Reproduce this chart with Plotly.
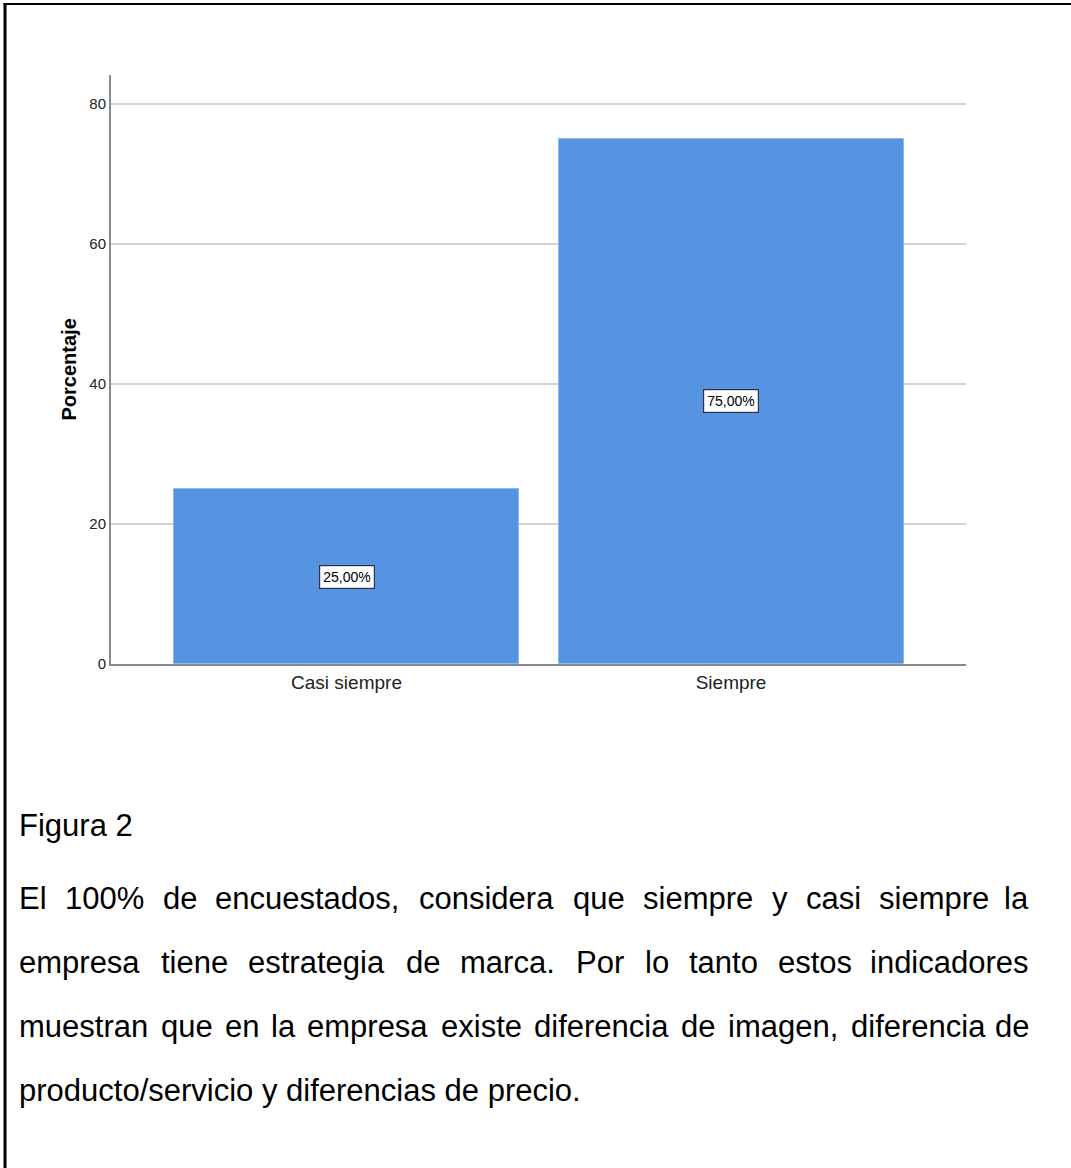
import plotly.graph_objects as go

# ---------------- data ----------------
categories = ["Casi siempre", "Siempre"]
percentages = [25.0, 75.0]
y_ticks = [0, 20, 40, 60, 80]
y_title = "Porcentaje"
caption_title = "Figura 2"
caption_lines = [
    "El 100% de encuestados, considera que siempre y casi siempre la",
    "empresa tiene estrategia de marca. Por lo tanto estos indicadores",
    "muestran que en la empresa existe diferencia de imagen, diferencia de",
    "producto/servicio y diferencias de precio.",
]
justified = [True, True, True, False]

# ---------------- geometry (pixels) ----------------
W, H = 1071, 1168
PL, PR, PT, PB = 111, 966, 75, 664


def px_x(px):
    return (px - PL) / (PR - PL)


def px_y(py):
    return (PB - py) / (PB - PT)


NARROW = "Liberation Sans Narrow, Arial Narrow, Liberation Sans, Arial, sans-serif"
SANS = "Liberation Sans, Arial, sans-serif"

fig = go.Figure()
fig.add_trace(go.Bar(
    x=categories, y=percentages, width=0.897,
    marker=dict(color="#5694E3", line=dict(color="#8FB9EE", width=1)),
    hoverinfo="skip",
))

annotations = []
for c, v in zip(categories, percentages):
    annotations.append(dict(
        x=c, y=v / 2, xref="x", yref="y",
        text=f"{v:.2f}".replace(".", ",") + "%",
        showarrow=False, bgcolor="white", bordercolor="#2b3340", borderwidth=1.2,
        borderpad=3, font=dict(family=NARROW, size=14, color="black"),
    ))

# y title
annotations.append(dict(
    x=px_x(68), y=0.5, xref="paper", yref="paper", text=f"<b>{y_title}</b>",
    textangle=-90, showarrow=False, xanchor="center", yanchor="middle",
    font=dict(family=SANS, size=20, color="black"),
))

# caption text with approximate justification (Arial metrics)
AW = {' ': 278, '%': 889, ',': 278, '.': 278, '/': 278, 'E': 667, 'F': 611, 'P': 667,
      'a': 556, 'b': 556, 'c': 500, 'd': 556, 'e': 556, 'f': 278, 'g': 556, 'h': 556,
      'i': 222, 'j': 222, 'k': 500, 'l': 222, 'm': 833, 'n': 556, 'o': 556, 'p': 556,
      'q': 556, 'r': 333, 's': 500, 't': 278, 'u': 556, 'v': 500, 'w': 722, 'x': 500,
      'y': 500, 'z': 500}
for d in "0123456789":
    AW[d] = 556
FS = 31
TXT_L, TXT_R = 17, 1031


def wwidth(s):
    return sum(AW.get(ch, 556) for ch in s) * FS / 1000.0 * 1.01


annotations.append(dict(
    x=px_x(TXT_L), y=px_y(825), xref="paper", yref="paper", text=caption_title,
    showarrow=False, xanchor="left", yanchor="middle",
    font=dict(family=SANS, size=FS, color="black"),
))
line_centers = [899, 962, 1026, 1090]
for line, yc, just in zip(caption_lines, line_centers, justified):
    if just:
        words = line.split(" ")
        widths = [wwidth(w) for w in words]
        gap = (TXT_R - TXT_L - sum(widths)) / (len(words) - 1)
        xpos = TXT_L
        for i, (w, ww) in enumerate(zip(words, widths)):
            if i == len(words) - 1:
                annotations.append(dict(
                    x=px_x(TXT_R), y=px_y(yc), xref="paper", yref="paper", text=w,
                    showarrow=False, xanchor="right", yanchor="middle",
                    font=dict(family=SANS, size=FS, color="black")))
            else:
                annotations.append(dict(
                    x=px_x(xpos), y=px_y(yc), xref="paper", yref="paper", text=w,
                    showarrow=False, xanchor="left", yanchor="middle",
                    font=dict(family=SANS, size=FS, color="black")))
            xpos += ww + gap
    else:
        annotations.append(dict(
            x=px_x(TXT_L), y=px_y(yc), xref="paper", yref="paper", text=line,
            showarrow=False, xanchor="left", yanchor="middle",
            font=dict(family=SANS, size=FS, color="black")))

shapes = [
    dict(type="line", xref="paper", yref="paper", x0=px_x(5), x1=px_x(5),
         y0=px_y(3), y1=px_y(H + 5), line=dict(color="black", width=3)),
    dict(type="line", xref="paper", yref="paper", x0=px_x(3.5), x1=px_x(W + 5),
         y0=px_y(4), y1=px_y(4), line=dict(color="black", width=2)),
]

fig.update_layout(
    width=W, height=H,
    margin=dict(l=PL, r=W - PR, t=PT, b=H - PB, autoexpand=False),
    paper_bgcolor="white", plot_bgcolor="white",
    showlegend=False, hovermode=False, bargap=0,
    annotations=annotations, shapes=shapes,
    xaxis=dict(
        range=[-0.6125, 1.611], showline=True, linecolor="#8a8a8a", linewidth=2,
        showgrid=False, ticks="", zeroline=False,
        tickfont=dict(family=NARROW, size=19, color="#222"),
    ),
    yaxis=dict(
        range=[0, 84.14], tickvals=y_ticks, showline=True, linecolor="#8a8a8a",
        linewidth=2, showgrid=True, gridcolor="#d2d2d2", gridwidth=2, ticks="",
        zeroline=False, tickfont=dict(family=NARROW, size=15, color="#222"),
    ),
)

fig.write_html("out.html", config={"displayModeBar": False})
